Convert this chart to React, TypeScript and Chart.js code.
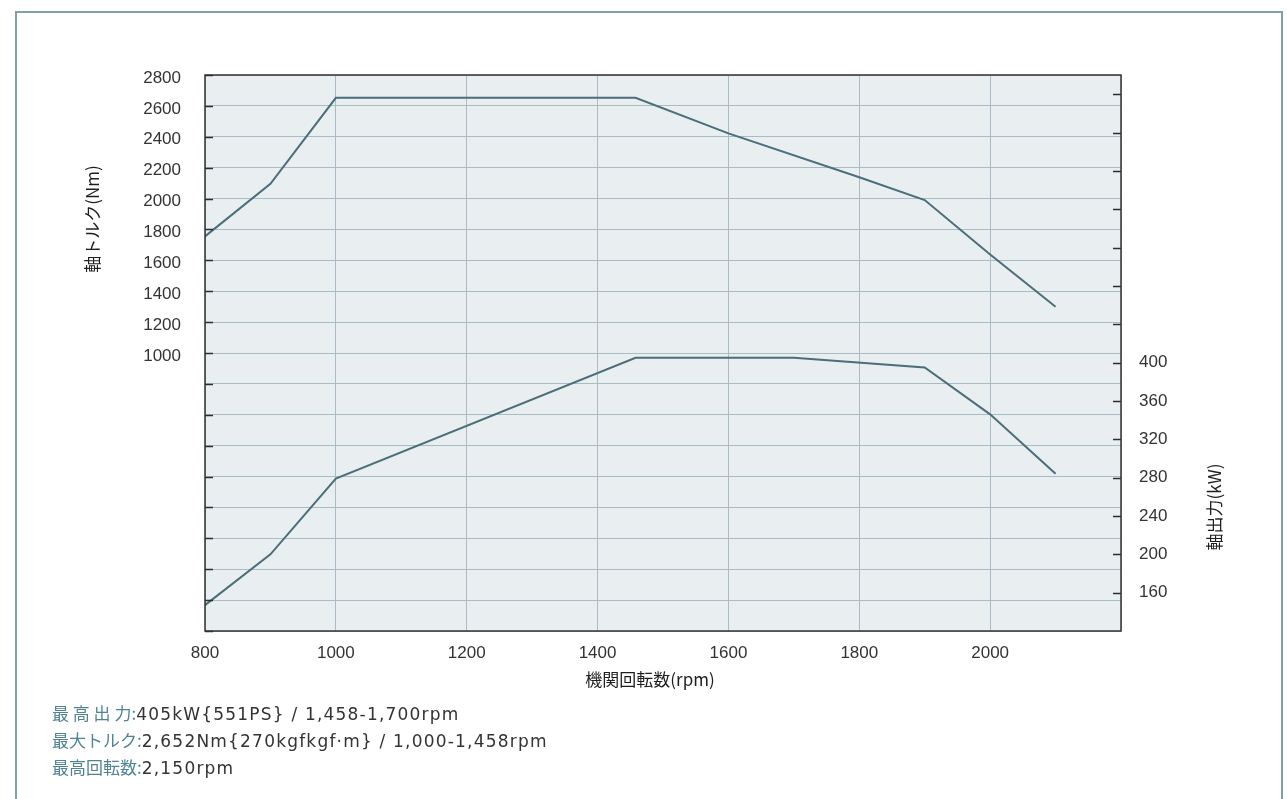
import React, { useEffect, useRef } from "react";
import { Chart, registerables } from "chart.js";

Chart.register(...registerables);

const rpmTicks = [800, 1000, 1200, 1400, 1600, 1800, 2000, 2200];
const rpmLabels = [800, 1000, 1200, 1400, 1600, 1800, 2000];

const torqueTicks = [-800, -600, -400, -200, 0, 200, 400, 600, 800, 1000, 1200, 1400, 1600, 1800, 2000, 2200, 2400, 2600, 2800];
const torqueLabelMin = 1000;

const powerTicks = [160, 200, 240, 280, 320, 360, 400, 440, 480, 520, 560, 600, 640, 680];
const powerLabelMax = 400;

const torqueRpm = [800, 900, 1000, 1458, 1600, 1800, 1900, 2000, 2100];
const torqueNm = [1755, 2095, 2652, 2652, 2422, 2138, 1990, 1638, 1300];

const powerRpm = [800, 900, 1000, 1458, 1700, 1900, 2000, 2100];
const powerKw = [147, 200, 279, 405, 405, 395, 346, 284];

const specLines = [
  { label: "最 高 出 力:", value: "405kW{551PS} / 1,458-1,700rpm" },
  { label: "最大トルク:", value: "2,652Nm{270kgfkgf·m} / 1,000-1,458rpm" },
  { label: "最高回転数:", value: "2,150rpm" },
];

const LINE = "#4b6e79";
const GRID = "#a9bcc3";
const PLOT_BG = "#e9eef0";
const NUM_FONT = '"Liberation Sans", Arial, sans-serif';
const JP_FONT = '"Noto Sans CJK JP", "Noto Sans", sans-serif';

export default function App() {
  const ref = useRef<HTMLCanvasElement | null>(null);

  useEffect(() => {
    const canvas = ref.current;
    if (!canvas) return;

    const decor = {
      id: "decor",
      beforeDraw(chart: any) {
        const { ctx, chartArea: a } = chart;
        ctx.save();
        ctx.fillStyle = PLOT_BG;
        ctx.fillRect(a.left, a.top, a.right - a.left, a.bottom - a.top);
        ctx.restore();
      },
      afterDraw(chart: any) {
        const { ctx, chartArea: a, scales } = chart;
        ctx.save();
        ctx.strokeStyle = "#2e2e2e";
        ctx.lineWidth = 1.5;
        ctx.beginPath();
        torqueTicks.forEach((v) => {
          const y = Math.round(scales.y.getPixelForValue(v)) + 0.5;
          ctx.moveTo(a.left, y);
          ctx.lineTo(a.left + 8, y);
        });
        powerTicks.forEach((v) => {
          const y = Math.round(scales.y2.getPixelForValue(v)) + 0.5;
          ctx.moveTo(a.right, y);
          ctx.lineTo(a.right - 8, y);
        });
        ctx.stroke();
        ctx.lineWidth = 1.5;
        ctx.strokeStyle = "#333333";
        ctx.strokeRect(a.left, a.top, a.right - a.left, a.bottom - a.top);
        ctx.fillStyle = "#1e1e1e";
        ctx.font = `17px ${JP_FONT}`;
        ctx.textAlign = "center";
        ctx.textBaseline = "middle";
        ctx.fillText("機関回転数(rpm)", 650, 680);
        ctx.save();
        ctx.translate(93, 219);
        ctx.rotate(-Math.PI / 2);
        ctx.fillText("軸トルク(Nm)", 0, 0);
        ctx.restore();
        ctx.save();
        ctx.translate(1215, 507);
        ctx.rotate(-Math.PI / 2);
        ctx.fillText("軸出力(kW)", 0, 0);
        ctx.restore();
        ctx.restore();
      },
    };

    const chart = new Chart(canvas, {
      type: "line",
      data: {
        datasets: [
          {
            label: "軸トルク",
            data: torqueRpm.map((x, i) => ({ x, y: torqueNm[i] })),
            yAxisID: "y",
            borderColor: LINE,
            borderWidth: 2,
            pointRadius: 0,
            tension: 0,
            fill: false,
          },
          {
            label: "軸出力",
            data: powerRpm.map((x, i) => ({ x, y: powerKw[i] })),
            yAxisID: "y2",
            borderColor: LINE,
            borderWidth: 2,
            pointRadius: 0,
            tension: 0,
            fill: false,
          },
        ],
      },
      options: {
        responsive: false,
        animation: false,
        devicePixelRatio: 1,
        layout: { padding: { top: 75, left: 0, right: 0, bottom: 0 } },
        plugins: {
          legend: { display: false },
          tooltip: { enabled: false },
        },
        scales: {
          x: {
            type: "linear",
            min: 800,
            max: 2200,
            afterBuildTicks: (s: any) => {
              s.ticks = rpmTicks.map((v) => ({ value: v }));
            },
            afterFit: (s: any) => {
              s.height = 168;
            },
            ticks: {
              autoSkip: false,
              maxRotation: 0,
              padding: 12,
              color: "#333333",
              font: { family: NUM_FONT, size: 17 },
              callback: (v: any) => (rpmLabels.includes(Number(v)) ? String(v) : ""),
            },
            grid: { color: GRID, lineWidth: 1, drawTicks: false },
            border: { display: false },
          },
          y: {
            type: "linear",
            position: "left",
            min: -800,
            max: 2800,
            afterBuildTicks: (s: any) => {
              s.ticks = torqueTicks.map((v) => ({ value: v }));
            },
            afterFit: (s: any) => {
              s.width = 205;
            },
            ticks: {
              autoSkip: false,
              padding: 24,
              labelOffset: 3,
              color: "#333333",
              font: { family: NUM_FONT, size: 17 },
              callback: (v: any) => (Number(v) >= torqueLabelMin ? String(v) : ""),
            },
            grid: { color: GRID, lineWidth: 1, drawTicks: false },
            border: { display: false },
          },
          y2: {
            type: "linear",
            position: "right",
            min: 120,
            max: 700,
            afterBuildTicks: (s: any) => {
              s.ticks = powerTicks.map((v) => ({ value: v }));
            },
            afterFit: (s: any) => {
              s.width = 166;
            },
            ticks: {
              autoSkip: false,
              padding: 18,
              color: "#333333",
              font: { family: NUM_FONT, size: 17 },
              callback: (v: any) => (Number(v) <= powerLabelMax ? String(v) : ""),
            },
            grid: { display: false, drawTicks: false },
            border: { display: false },
          },
        },
      } as any,
      plugins: [decor],
    });

    return () => chart.destroy();
  }, []);

  return (
    <div
      style={{
        position: "fixed",
        left: 0,
        top: 0,
        width: 1287,
        height: 799,
        overflow: "hidden",
        background: "#ffffff",
      }}
    >
      <div
        style={{
          position: "absolute",
          left: 15,
          top: 11,
          width: 1268,
          height: 840,
          border: "2px solid #7fa0a9",
          boxSizing: "border-box",
        }}
      />
      <canvas
        ref={ref}
        width={1287}
        height={799}
        style={{ position: "absolute", left: 0, top: 0, width: 1287, height: 799 }}
      />
      {specLines.map((l, i) => (
        <div
          key={i}
          style={{
            position: "absolute",
            left: 52,
            top: 701 + i * 27,
            fontSize: 17,
            lineHeight: "24px",
            whiteSpace: "nowrap",
            color: "#333333",
          }}
        >
          <span style={{ color: "#4f8494", fontFamily: JP_FONT }}>{l.label}</span>
          <span style={{ fontFamily: '"DejaVu Sans", sans-serif', letterSpacing: "1.2px" }}>{l.value}</span>
        </div>
      ))}
    </div>
  );
}
